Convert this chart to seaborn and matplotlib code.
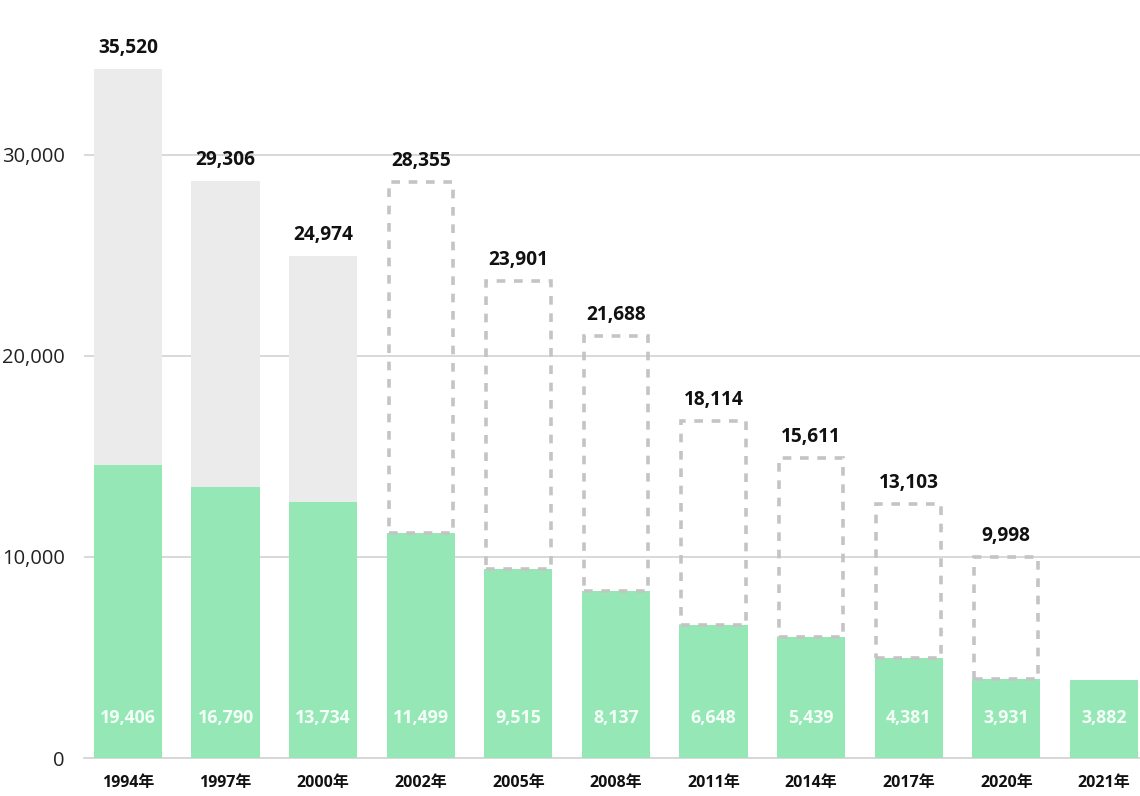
import numpy as np
import pandas as pd
import matplotlib
matplotlib.use("Agg")
import matplotlib.pyplot as plt
import seaborn as sns

# bar heights as drawn on the axis, and the labels printed on the chart
years = ["1994年", "1997年", "2000年", "2002年", "2005年", "2008年",
         "2011年", "2014年", "2017年", "2020年", "2021年"]
total_height = [34280, 28710, 24975, 28660, 23730, 21000,
                16770, 14925, 12640, 10000, np.nan]
base_height = [14580, 13480, 12740, 11195, 9400, 8310,
               6620, 6020, 4975, 3930, 3880]
total_labels = ["35,520", "29,306", "24,974", "28,355", "23,901", "21,688",
                "18,114", "15,611", "13,103", "9,998", ""]
base_labels = ["19,406", "16,790", "13,734", "11,499", "9,515", "8,137",
               "6,648", "5,439", "4,381", "3,931", "3,882"]
# solid grey upper part for surveyed years, dashed outline for estimated ones
upper_style = ["solid", "solid", "solid", "dashed", "dashed", "dashed",
               "dashed", "dashed", "dashed", "dashed", "none"]

GREEN = "#95e8b5"
GREY = "#ebebeb"
DASH = "#c4c4c4"
GRID = "#d6d6d6"

sns.set_theme(style="white")
plt.rcParams["font.family"] = ["Open Sans", "Noto Sans CJK JP", "DejaVu Sans"]

df = pd.DataFrame({
    "year": years,
    "total": total_height,
    "base": base_height,
    "upper": [t - b for t, b in zip(total_height, base_height)],
    "style": upper_style,
})

fig = plt.figure(figsize=(11.4, 7.96), dpi=100)
ax = fig.add_axes([84 / 1140, 38 / 796, 1 - 84 / 1140, 1 - 38 / 796])

# solid grey totals (drawn full height, green covers the lower part)
solid = df.copy()
solid.loc[solid["style"] != "solid", "total"] = np.nan
sns.barplot(data=solid, x="year", y="total", color=GREY, saturation=1,
            width=0.7, linewidth=0, ax=ax, zorder=2)

# green base
sns.barplot(data=df, x="year", y="base", color=GREEN, saturation=1,
            width=0.7, linewidth=0, ax=ax, zorder=3)

# dashed estimated segment stacked on the green base
dashed = df[df["style"] == "dashed"]
pos = [years.index(y) for y in dashed["year"]]
ax.bar(pos, dashed["upper"], bottom=dashed["base"], width=0.66,
       facecolor="none", edgecolor=DASH, linewidth=2.6,
       linestyle=(0, (2.4, 2.4)), zorder=4)

# value labels
for i in range(len(years)):
    if total_labels[i]:
        ax.annotate(total_labels[i], xy=(i, total_height[i]), xytext=(0, 15),
                    textcoords="offset points", ha="center", va="center",
                    fontsize=13.8, fontweight="bold", color="#111111", zorder=5)
    ax.annotate(base_labels[i], xy=(i, 0), xytext=(0, 29),
                textcoords="offset points", ha="center", va="center",
                fontsize=12.8, fontweight="bold", color="#f4fff8", zorder=5)

ax.set_xlim(-0.45, 10.37)
ax.set_ylim(0, 37711)
ax.set_yticks([0, 10000, 20000, 30000])
ax.set_yticklabels(["0", "10,000", "20,000", "30,000"])
ax.yaxis.grid(True, color=GRID, linewidth=1.3)
ax.set_axisbelow(True)
ax.set_xlabel("")
ax.set_ylabel("")
for s in ["top", "right", "left"]:
    ax.spines[s].set_visible(False)
ax.spines["bottom"].set_color(GRID)
ax.spines["bottom"].set_linewidth(1.3)
ax.tick_params(axis="y", length=0, pad=14, labelsize=14.5, labelcolor="#222222")
ax.tick_params(axis="x", length=0, pad=12, labelsize=11.5, labelcolor="#111111")
for lab in ax.get_xticklabels():
    lab.set_fontweight("bold")

fig.savefig("out.png", dpi=100)
